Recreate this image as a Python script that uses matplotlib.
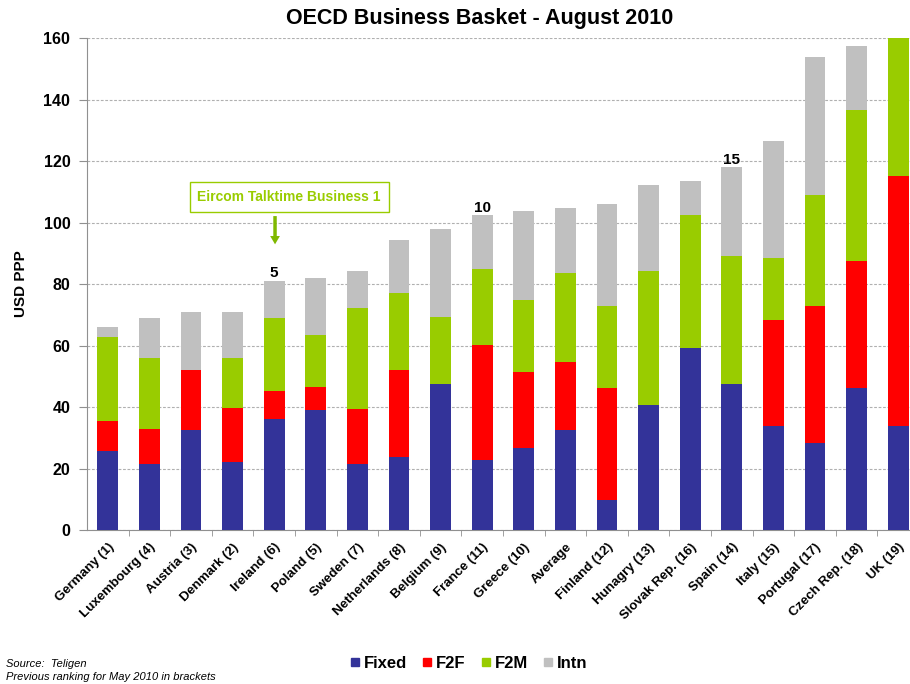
# OECD business basket, stacked bars per country
import numpy as np
import matplotlib.pyplot as plt
from matplotlib.lines import Line2D
from matplotlib.transforms import ScaledTranslation

plt.rcParams['font.family'] = ['Liberation Sans', 'DejaVu Sans']

countries = ['Germany (1)', 'Luxembourg (4)', 'Austria (3)', 'Denmark (2)', 'Ireland (6)',
             'Poland (5)', 'Sweden (7)', 'Netherlands (8)', 'Belgium (9)', 'France (11)',
             'Greece (10)', 'Average', 'Finland (12)', 'Hunagry (13)', 'Slovak Rep. (16)',
             'Spain (14)', 'Italy (15)', 'Portugal (17)', 'Czech Rep. (18)', 'UK (19)']
fixed = [25.7, 21.5, 32.6, 22.0, 36.1, 38.9, 21.4, 23.8, 47.5, 22.7,
         26.8, 32.6, 9.9, 40.7, 59.2, 47.4, 33.9, 28.3, 46.3, 33.9]
f2f = [9.8, 11.4, 19.4, 17.8, 9.2, 7.5, 17.9, 28.2, 0.0, 37.4,
       24.6, 22.0, 36.2, 0.0, 0.0, 0.0, 34.4, 44.5, 41.2, 81.2]
f2m = [27.4, 22.9, 0.0, 16.0, 23.6, 16.9, 32.8, 25.2, 21.7, 24.9,
       23.4, 29.1, 26.7, 43.5, 43.2, 41.8, 20.2, 36.1, 49.0, 50.0]
intn = [3.2, 13.0, 18.8, 15.2, 12.2, 18.5, 12.2, 17.1, 28.6, 17.4,
        28.9, 21.1, 33.3, 28.1, 11.2, 28.7, 38.0, 45.0, 20.9, 10.0]
rank_labels = {4: '5', 9: '10', 15: '15'}

series = [('Fixed', fixed, '#333399'), ('F2F', f2f, '#FF0000'),
          ('F2M', f2m, '#99CC00'), ('Intn', intn, '#C0C0C0')]

fig = plt.figure(figsize=(9.1, 6.84), dpi=100)
ax = fig.add_axes([0.0956, 0.2251, 0.9143, 0.7193])

x = np.arange(len(countries))
bottom = np.zeros(len(countries))
for name, vals, col in series:
    ax.bar(x, vals, 0.5, bottom=bottom, color=col, label=name, zorder=3)
    bottom += np.array(vals)

for i, txt in rank_labels.items():
    ax.text(x[i], bottom[i] + 0.2, txt, ha='center', va='bottom',
            fontsize=11, fontweight='bold', zorder=4)

ax.set_xlim(-0.5, len(countries) - 0.5)
ax.set_ylim(0, 160)
ax.set_yticks(np.arange(0, 161, 20))
ax.yaxis.grid(True, linestyle=(0, (2.5, 1.5)), color='#b0b0b0', linewidth=0.8, zorder=0)
ax.set_xticks(x)
ax.set_xticks(np.arange(0.5, len(countries) - 0.5, 1), minor=True)
ax.set_xticklabels(countries, rotation=45, ha='right', rotation_mode='anchor',
                   fontsize=9.5, fontweight='bold')
# nudge labels a little to the left, like the original
for lbl in ax.get_xticklabels():
    lbl.set_transform(lbl.get_transform() + ScaledTranslation(-0.06, 0, fig.dpi_scale_trans))
ax.tick_params(axis='x', which='major', length=0, pad=8)
ax.tick_params(axis='x', which='minor', length=4, color='#909090', direction='out')
ax.tick_params(axis='y', length=6, color='#909090', labelsize=11.5, pad=6)
for lbl in ax.get_yticklabels():
    lbl.set_fontweight('bold')
for s in ['top', 'right']:
    ax.spines[s].set_visible(False)
for s in ['left', 'bottom']:
    ax.spines[s].set_color('#909090')
ax.set_ylabel('USD PPP', fontsize=11, fontweight='bold', labelpad=11)

# Eircom callout
ax.text(4.36, 108.3, 'Eircom Talktime Business 1', ha='center', va='center',
        fontsize=10, fontweight='bold', color='#99CC00', zorder=5,
        bbox=dict(boxstyle='square,pad=0.55', fc='white', ec='#99CC00', lw=1))
ax.annotate('', xy=(4.02, 92.0), xytext=(4.02, 103.0),
            arrowprops=dict(arrowstyle='simple,head_width=0.7,head_length=0.6,tail_width=0.25',
                            color='#7fb800', lw=0), zorder=5)

fig.text(0.527, 0.973, 'OECD Business Basket - August 2010', ha='center', va='center',
         fontsize=15.5, fontweight='bold')

handles = [Line2D([], [], marker='s', linestyle='', markersize=6, color=c) for _, _, c in series]
fig.legend(handles, [n for n, _, _ in series], loc='center', bbox_to_anchor=(0.515, 0.03),
           ncol=4, frameon=False, handlelength=0.6, handletextpad=0.25, columnspacing=0.9,
           prop={'weight': 'bold', 'size': 12})

fig.text(0.007, 0.029, 'Source:  Teligen', fontsize=8, style='italic', va='center')
fig.text(0.007, 0.010, 'Previous ranking for May 2010 in brackets', fontsize=8,
         style='italic', va='center')

fig.savefig('out.png', dpi=100)
